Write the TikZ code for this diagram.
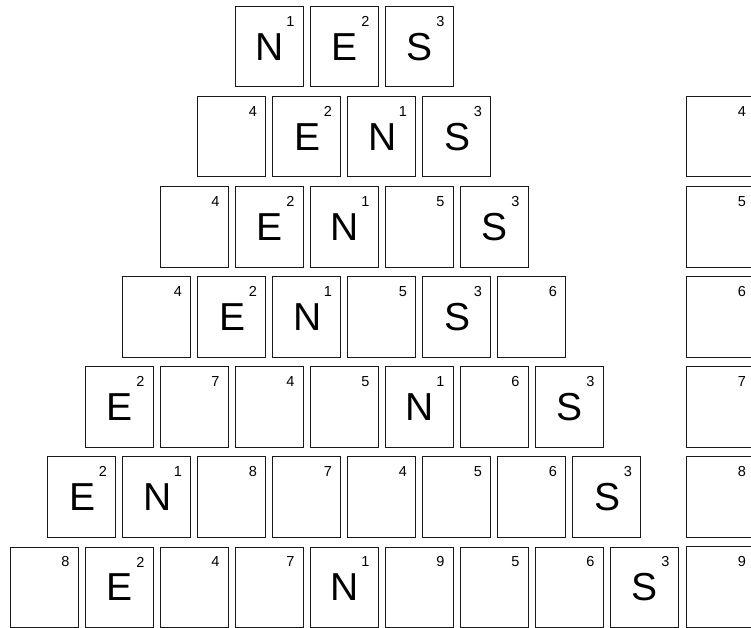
\documentclass[tikz,border=0pt]{standalone}
\usepackage{fontspec}
\setmainfont{Liberation Sans}
\newcommand\mytile[5]{%
  \node[tilebox] (#1) at (#2,#3) {};
  \node[bigletter] (#1l) at ([xshift=1pt]#1.center) {#4};
  \node[smallnum] (#1n) at ([xshift=-13pt,yshift=-15.5pt]#1.north east) {#5};
}
\begin{document}
\begin{tikzpicture}[x=1pt,y=-1pt,
  tilebox/.style={draw=black!90, line width=0.9pt, minimum width=68pt, minimum height=80.5pt, inner sep=0pt, anchor=north west},
  bigletter/.style={font=\fontsize{39}{39}\selectfont, inner sep=0pt},
  smallnum/.style={font=\fontsize{14.5}{14.5}\selectfont, inner sep=0pt}]
\useasboundingbox (0,0) rectangle (751,628);
\clip (0,0) rectangle (751,628);
% row 1
\foreach \L/\N [count=\i from 0] in {N/1,E/2,S/3}
  {\mytile{ra\i}{234.5+75*\i}{6}{\L}{\N}}
% row 2
\foreach \L/\N [count=\i from 0] in {/4,E/2,N/1,S/3}
  {\mytile{rb\i}{197+75*\i}{96}{\L}{\N}}
% row 3
\foreach \L/\N [count=\i from 0] in {/4,E/2,N/1,/5,S/3}
  {\mytile{rc\i}{159.5+75*\i}{186}{\L}{\N}}
% row 4
\foreach \L/\N [count=\i from 0] in {/4,E/2,N/1,/5,S/3,/6}
  {\mytile{rd\i}{122+75*\i}{276}{\L}{\N}}
% row 5
\foreach \L/\N [count=\i from 0] in {E/2,/7,/4,/5,N/1,/6,S/3}
  {\mytile{re\i}{84.5+75*\i}{366}{\L}{\N}}
% row 6
\foreach \L/\N [count=\i from 0] in {E/2,N/1,/8,/7,/4,/5,/6,S/3}
  {\mytile{rf\i}{47+75*\i}{456}{\L}{\N}}
% row 7
\foreach \L/\N [count=\i from 0] in {/8,E/2,/4,/7,N/1,/9,/5,/6,S/3}
  {\mytile{rg\i}{9.5+75*\i}{546.5}{\L}{\N}}
% right column
\foreach \N [count=\i from 0] in {4,5,6,7,8,9}
  {\mytile{rr\i}{686}{96+90*\i}{}{\N}}
\end{tikzpicture}
\end{document}
